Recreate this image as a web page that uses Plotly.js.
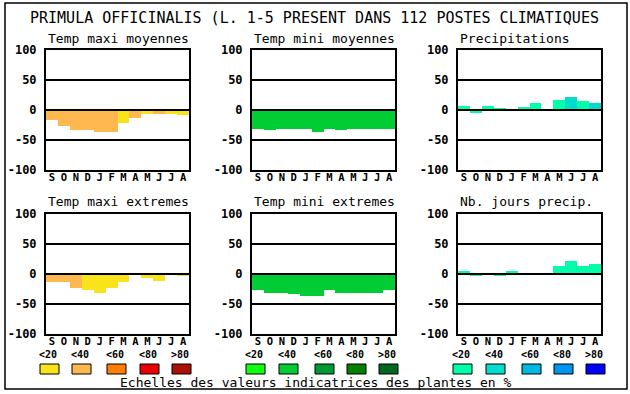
<!DOCTYPE html>
<html>
<head>
<meta charset="utf-8">
<script src="https://cdn.plot.ly/plotly-3.0.1.min.js"></script>
<style>html,body{margin:0;padding:0;background:#fff;}#chart{width:630px;height:394px;}</style>
</head>
<body>
<div id="chart"></div>
<script>
// ---- data ----
const months = ['S','O','N','D','J','F','M','A','M','J','J','A'];
const yTicks = [-100, -50, 0, 50, 100];
const legendLabels = ['<20','<40','<60','<80','>80'];
const footerText = 'Echelles des valeurs indicatrices des plantes en %';
const mainTitle = 'PRIMULA OFFICINALIS (L. 1-5 PRESENT DANS 112 POSTES CLIMATIQUES';

const titles = ['Temp maxi moyennes','Temp mini moyennes','Precipitations',
                'Temp maxi extremes','Temp mini extremes','Nb. jours precip.'];

const tMaxMoy    = [-17,-27,-34,-34,-37,-36,-22,-14,-6,-6,-6,-8];
const tMaxMoyCls = [1,1,1,1,1,1,0,1,0,1,0,0];
const tMinMoy    = [-31,-34,-32,-32,-32,-36,-31,-34,-31,-32,-31,-31];
const tMinMoyCls = [1,1,1,1,1,1,1,1,1,1,1,1];
const precip     = [7,-5,7,4,0,5,12,2,17,22,15,12];
const precipCls  = [0,0,0,0,0,0,0,0,0,1,0,1];
const tMaxExt    = [-14,-13,-24,-27,-31,-24,-14,0,-7,-12,0,-4];
const tMaxExtCls = [1,1,1,0,0,0,0,0,0,0,0,0];
const tMinExt    = [-26,-32,-31,-34,-36,-37,-27,-32,-31,-31,-31,-27];
const tMinExtCls = [1,1,1,1,1,1,1,1,1,1,1,1];
const nbJours    = [5,-3,0,-3,5,2,2,0,14,22,14,17];
const nbJoursCls = [0,0,0,0,0,0,0,0,0,0,0,0];

// ---- palettes (style) ----
const palTemp   = ['#F9E31B','#FFB84F','#FF7F00','#E80000','#AA1100'];
const palTmin   = ['#11FF11','#00CC33','#009933','#007F00','#006622'];
const palPrecip = ['#00FFAA','#00DDCC','#00B8E0','#0095EE','#0000FF'];

const W = 630, H = 394;
const colX = [[46,189],[252,395],[458,601]];
const rowY = [[50,170],[214,334]];
const px = v => v / W;
const py = v => 1 - v / H;

const panels = [
  {vals: tMaxMoy, cls: tMaxMoyCls, pal: palTemp},
  {vals: tMinMoy, cls: tMinMoyCls, pal: palTmin},
  {vals: precip,  cls: precipCls,  pal: palPrecip},
  {vals: tMaxExt, cls: tMaxExtCls, pal: palTemp},
  {vals: tMinExt, cls: tMinExtCls, pal: palTmin},
  {vals: nbJours, cls: nbJoursCls, pal: palPrecip}
];

const mono = 'DejaVu Sans Mono, monospace';
const traces = [];
const layout = {
  width: W, height: H,
  margin: {l:0, r:0, t:0, b:0},
  paper_bgcolor: '#fff', plot_bgcolor: '#fff',
  showlegend: false, bargap: 0,
  font: {family: mono, color: '#000'},
  annotations: [], shapes: []
};

const xIdx = months.map((m, i) => i);

panels.forEach((p, k) => {
  const n = k + 1;
  const xa = n === 1 ? 'x' : 'x' + n;
  const ya = n === 1 ? 'y' : 'y' + n;
  const col = k % 3, row = Math.floor(k / 3);
  traces.push({
    type: 'bar', x: xIdx, y: p.vals, xaxis: xa, yaxis: ya,
    marker: {color: p.cls.map(c => p.pal[c]), line: {width: 0}},
    hoverinfo: 'none'
  });
  layout['xaxis' + (n === 1 ? '' : n)] = {
    domain: [px(colX[col][0]), px(colX[col][1])],
    anchor: ya, range: [-0.5, 11.5],
    tickvals: xIdx, ticktext: months, ticks: '', showgrid: false, zeroline: false,
    ticklabelstandoff: -4,
    showline: true, mirror: true, linecolor: '#000', linewidth: 2,
    tickfont: {family: mono, size: 10.5, weight: 'bold', color: '#000'},
    fixedrange: true
  };
  layout['yaxis' + (n === 1 ? '' : n)] = {
    domain: [py(rowY[row][1]), py(rowY[row][0])],
    anchor: xa, range: [-100, 100],
    tickvals: yTicks, ticktext: yTicks.map(String),
    ticks: 'outside', ticklen: 5, tickcolor: 'rgba(0,0,0,0)',
    showgrid: true, gridcolor: '#000', gridwidth: 2, zeroline: false,
    showline: true, mirror: true, linecolor: '#000', linewidth: 2,
    tickfont: {family: mono, size: 12, weight: 'bold', color: '#000'},
    fixedrange: true
  };
  // zero line above bars
  layout.shapes.push({type: 'line', xref: xa + ' domain', yref: ya,
    x0: 0, x1: 1, y0: 0, y1: 0, line: {color: '#000', width: 2}, layer: 'above'});
  layout.annotations.push({
    text: titles[k], xref: xa + ' domain', yref: ya + ' domain',
    x: 0, y: 1, xanchor: 'left', yanchor: 'middle', yshift: 12,
    showarrow: false, font: {family: mono, size: 13, color: '#000'}
  });
});

// main title
layout.annotations.push({
  text: mainTitle, xref: 'paper', yref: 'paper', x: px(314), y: py(18),
  xanchor: 'center', yanchor: 'middle', showarrow: false,
  font: {family: mono, size: 15, color: '#000'}
});
// footer
layout.annotations.push({
  text: footerText, xref: 'paper', yref: 'paper', x: px(316), y: py(382),
  xanchor: 'center', yanchor: 'middle', showarrow: false,
  font: {family: mono, size: 13, color: '#000'}
});

// legend swatches
const legendGroups = [
  {pal: palTemp,   xs: [40,72,107,140,172]},
  {pal: palTmin,   xs: [246,279,315,347,379]},
  {pal: palPrecip, xs: [453,486,522,554,586]}
];
legendGroups.forEach(g => {
  g.xs.forEach((x0, i) => {
    layout.shapes.push({type: 'rect', xref: 'paper', yref: 'paper',
      x0: px(x0), x1: px(x0 + 19), y0: py(374), y1: py(364),
      fillcolor: g.pal[i], line: {color: '#000', width: 1}});
    layout.annotations.push({
      text: legendLabels[i], xref: 'paper', yref: 'paper',
      x: px(x0 + 8), y: py(354.5), xanchor: 'center', yanchor: 'middle',
      showarrow: false, font: {family: mono, size: 10, weight: 'bold', color: '#000'}
    });
  });
});

// outer frame
layout.shapes.push({type: 'rect', xref: 'paper', yref: 'paper',
  x0: px(5), x1: px(627), y0: py(389), y1: py(3),
  line: {color: '#000', width: 1.5}, fillcolor: 'rgba(0,0,0,0)'});

Plotly.newPlot('chart', traces, layout, {staticPlot: true, displayModeBar: false});
</script>
</body>
</html>
